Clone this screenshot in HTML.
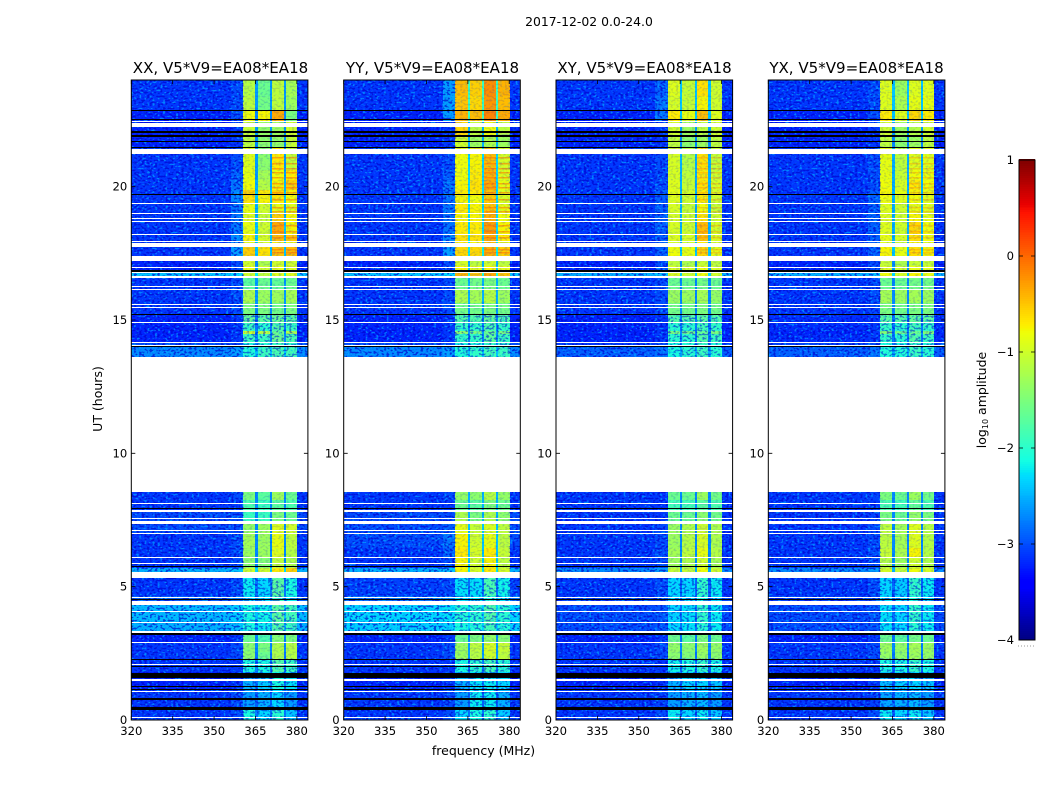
<!DOCTYPE html>
<html>
<head>
<meta charset="utf-8">
<title>2017-12-02 amplitude waterfall</title>
<style>
html,body{margin:0;padding:0;background:#fff;}
svg{display:block;}
text{font-family:"DejaVu Sans","Liberation Sans",sans-serif;fill:#000;}
</style>
</head>
<body>
<svg id="chart" xmlns="http://www.w3.org/2000/svg" width="1050" height="800" viewBox="0 0 1050 800">
  <defs>
    <filter id="speckle-light" x="0" y="0" width="100%" height="100%" color-interpolation-filters="sRGB">
      <feTurbulence type="fractalNoise" baseFrequency="0.38 0.5" numOctaves="1" seed="4"/>
      <feColorMatrix type="matrix" values="0 0 0 0 0  0 0 0 0 0.68  0 0 0 0 1  9 0 0 0 -5.1"/>
    </filter>
    <filter id="speckle-dark" x="0" y="0" width="100%" height="100%" color-interpolation-filters="sRGB">
      <feTurbulence type="fractalNoise" baseFrequency="0.38 0.5" numOctaves="1" seed="11"/>
      <feColorMatrix type="matrix" values="0 0 0 0 0  0 0 0 0 0  0 0 0 0 0.8  9 0 0 0 -4.6"/>
    </filter>
  </defs>
  <rect x="0" y="0" width="1050" height="800" fill="#fff"/>
  <text x="589" y="26" font-size="12.4" text-anchor="middle">2017-12-02 0.0-24.0</text>
  <text x="220.5" y="73" font-size="15.05" text-anchor="middle">XX, V5*V9=EA08*EA18</text>
  <text x="432.5" y="73" font-size="15.05" text-anchor="middle">YY, V5*V9=EA08*EA18</text>
  <text x="644.5" y="73" font-size="15.05" text-anchor="middle">XY, V5*V9=EA08*EA18</text>
  <text x="856.5" y="73" font-size="15.05" text-anchor="middle">YX, V5*V9=EA08*EA18</text>
  <text x="483.5" y="755" font-size="12.5" text-anchor="middle">frequency (MHz)</text>
  <text transform="translate(102,399) rotate(-90)" font-size="12.5" text-anchor="middle">UT (hours)</text>
  <text transform="translate(986,400) rotate(-90)" font-size="12.5" text-anchor="middle">log<tspan font-size="8" dy="2">10</tspan><tspan dy="-2"> amplitude</tspan></text>
  <g id="panels"></g>
  <g id="colorbar"></g>
</svg>
<script>
// ---- chart data ----
const xTicks = [320, 335, 350, 365, 380];
const yTicks = [0, 5, 10, 15, 20];
const colorTicks = [1, 0, -1, -2, -3, -4];
const colorTickLabels = ['1', '0', '\u22121', '\u22122', '\u22123', '\u22124'];
// frequency edges (MHz) for the channel groups
const freqEdges = [320, 356, 360.5, 365, 365.8, 370.3, 371, 375.2, 376, 380.2, 384];
// time edges (UT hours), top to bottom
const rowEdges = [24,23.4,22.84,22.46,21.94,21.45,20.62,20.25,19.87,19.65,19.39,19,18.67,18.22,17.96,17.74,17.4,17.02,16.76,16.65,16.12,15.64,15.22,14.89,14.59,14.47,14.13,13.99,13.61,8.55,8.25,7.8,7.35,6.97,6.45,6.11,5.7,5.32,4.65,4.31,3.67,3.3,2.92,2.55,2.29,1.8,1.12,0.45,0];
// log10 amplitude per row: [background, near-band, seg1, seg2, seg3, seg4, gap]
const ampXX = [
[-3.1,-3,-1.15,-1.6,-1.1,-1.25,-2.6],[-3.1,-3,-1.1,-1.55,-1.1,-1.3,-2.6],[-3.2,-3,-0.8,-0.75,-0.35,-1.5,-2.7],
[-3.2,-3.1,-1.05,-1.35,-1.3,-1,-2.6],[-3.2,-3.1,-1.1,-1.4,-1.35,-1.05,-2.7],[-3.1,-3,-0.9,-1.4,-0.7,-1.05,-2.6],
[-3.1,-2.9,-0.85,-1.25,-0.8,-0.7,-2.6],[-3.1,-2.8,-0.8,-1.15,-0.75,-0.55,-2.5],[-3.1,-2.7,-0.55,-0.7,-0.6,-0.75,-2.4],
[-3.1,-2.7,-0.65,-0.75,-0.7,-0.8,-2.4],[-3.1,-2.8,-0.85,-1,-0.85,-0.9,-2.5],[-3.1,-2.8,-0.9,-1.05,-0.55,-0.75,-2.5],
[-3.1,-2.8,-0.85,-1,-0.35,-0.75,-2.4],[-3.1,-2.7,-0.75,-0.95,-0.45,-0.5,-2.4],[-3.1,-2.7,-0.8,-0.95,-0.7,-0.8,-2.4],
[-3.1,-2.6,-0.55,-0.65,-0.5,-0.45,-2.4],[-3.2,-3,-1,-1.2,-1,-1,-2.7],[-3.2,-3,-0.85,-1,-0.85,-0.9,-2.6],
[-2.4,-2.3,-1,-1.1,-0.9,-0.9,-2.2],[-3.1,-3,-1.7,-1.6,-1.65,-1.6,-2.6],[-3.1,-3,-1.2,-1.3,-1.3,-1.25,-2.6],
[-3.1,-3,-1.5,-1.5,-1.55,-1.5,-2.7],[-3.2,-3.1,-1.65,-1.7,-1.6,-1.7,-2.8],[-3.2,-3.1,-1.9,-2,-1.75,-1.9,-2.8],
[-3.2,-3.1,-1,-1.1,-1.6,-1.2,-2.6],[-3.2,-3.1,-1.9,-1.9,-1.6,-1.8,-2.7],[-3,-3,-2.1,-2,-1.9,-2,-2.7],
[-2.7,-2.6,-2.05,-1.9,-1.8,-1.85,-2.4],null,
[-3.1,-3,-1.5,-1.7,-1.3,-1.6,-2.7],[-3.1,-3.1,-1.8,-1.9,-1.7,-1.8,-2.7],[-3,-3,-1.9,-1.9,-1.5,-1.6,-2.7],
[-3,-3,-1.35,-1.3,-0.9,-1,-2.7],[-3.1,-3,-1.25,-1.3,-0.85,-1.1,-2.7],[-3.1,-3,-1.3,-1.3,-0.9,-1.15,-2.7],
[-3.1,-3,-1.4,-1.45,-1.1,-1.2,-2.7],[-2.5,-2.4,-1,-1,-0.7,-0.55,-2.3],[-3.1,-3,-2.2,-2.3,-1.7,-2.1,-2.8],
[-2.9,-2.8,-2.3,-2.3,-1.9,-2.2,-2.7],[-2.45,-2.35,-2.1,-2.15,-1.7,-1.85,-2.4],[-2.5,-2.4,-2.1,-2.2,-1.75,-1.9,-2.5],
[-3.2,-3.1,-1.6,-1.8,-1.45,-1.5,-2.7],[-3.1,-3,-1.4,-1.5,-1.2,-1.15,-2.7],[-3.1,-3,-1.4,-1.6,-1.2,-1.15,-2.8],
[-3.1,-3.1,-2.1,-2.1,-1.75,-1.9,-2.8],[-3.2,-3.1,-2.5,-2.35,-2.1,-2.25,-2.8],[-3.1,-3,-2.6,-2.5,-2.3,-2.6,-2.9],[-3.1,-3,-2.1,-2.3,-2,-2.4,-2.8]
];
const ampYY = [
[-3.1,-2.6,-0.45,-0.55,-0.2,-0.4,-1.9],[-3.1,-2.6,-0.5,-0.6,-0.25,-0.45,-1.9],[-3.2,-2.6,-0.4,-0.45,-0.15,-0.35,-1.9],
[-3.2,-3.1,-0.6,-1.1,-0.8,-1.1,-2.5],[-3.2,-3.1,-1,-1.3,-1.2,-1.3,-2.5],[-3.1,-3,-0.8,-0.75,-0.45,-0.95,-2.3],
[-3.1,-2.9,-0.8,-0.7,-0.4,-0.9,-2.3],[-3.1,-2.8,-0.75,-0.65,-0.35,-0.85,-2.3],[-3.1,-2.8,-0.7,-0.7,-0.5,-0.9,-2.3],
[-3.1,-2.8,-0.75,-0.8,-0.55,-0.95,-2.3],[-3.1,-2.8,-0.7,-0.75,-0.5,-0.85,-2.3],[-3.1,-2.8,-0.75,-0.75,-0.4,-0.8,-2.3],
[-3.1,-2.8,-0.7,-0.7,-0.3,-0.75,-2.3],[-3.1,-2.7,-0.65,-0.65,-0.35,-0.7,-2.3],[-3.1,-2.7,-0.7,-0.75,-0.45,-0.8,-2.3],
[-3.1,-2.6,-0.6,-0.6,-0.4,-0.55,-2.2],[-3.2,-3,-0.95,-1.1,-1,-1.1,-2.5],[-3.2,-3,-0.75,-0.85,-0.75,-0.85,-2.4],
[-2.4,-2.3,-0.4,-0.5,-0.35,-0.5,-2.1],[-3.1,-3,-1.6,-1.55,-1.5,-1.6,-2.5],[-3.1,-3,-1.2,-1.25,-1.15,-1.3,-2.5],
[-3.1,-3,-1.55,-1.55,-1.5,-1.55,-2.6],[-3.2,-3.1,-1.75,-1.75,-1.65,-1.75,-2.7],[-3.2,-3.1,-1.95,-1.95,-1.8,-1.95,-2.7],
[-3.2,-3.1,-1.4,-1.5,-1.6,-1.5,-2.6],[-3.2,-3.1,-1.95,-1.95,-1.7,-1.9,-2.7],[-3,-3,-2.1,-2.05,-1.95,-2,-2.7],
[-2.7,-2.6,-2.05,-1.95,-1.85,-1.9,-2.4],null,
[-3.1,-3,-1.35,-1.4,-1.15,-1.35,-2.5],[-3.1,-3.1,-1.6,-1.7,-1.5,-1.6,-2.5],[-3,-3,-1.2,-1.5,-1.2,-1.4,-2.5],
[-3,-2.9,-0.85,-1.05,-0.95,-1.1,-2.4],[-3,-2.8,-0.75,-1,-0.85,-1.1,-2.4],[-3.1,-2.9,-0.7,-0.95,-0.7,-1.05,-2.4],
[-3.1,-3,-0.75,-1,-0.75,-1.1,-2.4],[-2.5,-2.4,-0.75,-0.95,-0.7,-0.95,-2.2],[-3.05,-3,-2.25,-2.25,-1.8,-2.15,-2.8],
[-2.8,-2.7,-2.25,-2.25,-2.05,-2.25,-2.6],[-2.3,-2.25,-2.05,-2,-1.75,-2,-2.3],[-2.35,-2.3,-2.1,-2.05,-1.85,-2.05,-2.3],
[-3.2,-3.1,-1.6,-1.5,-1.35,-1.45,-2.7],[-3.1,-3,-1.3,-1.1,-0.95,-1.05,-2.6],[-3.1,-3,-1.3,-1.15,-1,-1.1,-2.6],
[-3.1,-3.1,-2.1,-2,-1.85,-2,-2.8],[-3.2,-3.1,-2.5,-2.25,-2.2,-2.3,-2.8],[-3.1,-3,-2.6,-2.2,-2.2,-2.5,-2.9],[-3.1,-3,-2.3,-2.1,-2,-2.35,-2.8]
];
const ampXY = [
[-3.1,-2.9,-0.9,-1.05,-0.65,-1,-2.4],[-3.1,-2.8,-0.95,-1.05,-0.75,-1,-2.4],[-3.2,-2.8,-0.7,-0.85,-0.45,-0.9,-2.4],
[-3.2,-3.1,-1,-1.3,-1.1,-1,-2.6],[-3.2,-3.1,-1.1,-1.4,-1.3,-1.1,-2.7],[-3.1,-3,-0.95,-1.15,-0.65,-1.05,-2.5],
[-3.1,-3,-0.95,-1.1,-0.7,-1,-2.5],[-3.1,-3,-0.9,-1.05,-0.65,-0.95,-2.5],[-3.1,-2.9,-0.85,-0.95,-0.7,-0.95,-2.5],
[-3.1,-2.9,-0.9,-1,-0.7,-1,-2.5],[-3.1,-2.9,-0.95,-1.05,-0.8,-1.05,-2.5],[-3.1,-2.9,-0.95,-1,-0.65,-1,-2.5],
[-3.1,-2.9,-0.95,-1,-0.45,-0.95,-2.5],[-3.1,-2.9,-0.9,-0.95,-0.5,-0.9,-2.5],[-3.1,-2.9,-0.95,-1,-0.7,-0.95,-2.5],
[-3.1,-2.9,-0.8,-0.85,-0.6,-0.85,-2.4],[-3.2,-3,-1.1,-1.2,-1.05,-1.1,-2.7],[-3.2,-3,-0.95,-1,-0.85,-0.95,-2.6],
[-2.5,-2.4,-0.9,-1,-0.8,-1,-2.3],[-3.1,-3,-1.6,-1.6,-1.55,-1.6,-2.7],[-3.1,-3,-1.3,-1.3,-1.25,-1.35,-2.7],
[-3.1,-3,-1.55,-1.55,-1.5,-1.55,-2.7],[-3.2,-3.1,-1.75,-1.75,-1.7,-1.75,-2.8],[-3.2,-3.1,-2,-2,-1.85,-1.95,-2.8],
[-3.2,-3.1,-1.5,-1.55,-1.65,-1.5,-2.7],[-3.2,-3.1,-2,-2,-1.75,-1.9,-2.8],[-3.1,-3,-2.1,-2.05,-1.95,-2.05,-2.8],
[-2.9,-2.8,-2.1,-2,-1.9,-2,-2.5],null,
[-3.1,-3.1,-1.6,-1.6,-1.3,-1.55,-2.7],[-3.1,-3.1,-1.85,-1.85,-1.7,-1.8,-2.7],[-3.1,-3.1,-1.6,-1.6,-1.4,-1.55,-2.7],
[-3.1,-3,-1.3,-1.2,-1,-1.2,-2.7],[-3.1,-3,-1.3,-1.15,-0.95,-1.2,-2.7],[-3.1,-3,-1.25,-1.1,-0.85,-1.15,-2.7],
[-3.1,-3,-1.3,-1.2,-1,-1.25,-2.7],[-2.7,-2.6,-1.05,-1.05,-0.8,-1,-2.5],[-3.1,-3,-2.3,-2.3,-1.95,-2.2,-2.9],
[-3.05,-3,-2.3,-2.3,-2.1,-2.3,-2.9],[-3,-2.95,-2.3,-2.25,-1.95,-2.2,-2.8],[-3,-2.95,-2.3,-2.25,-2,-2.2,-2.8],
[-3.2,-3.1,-1.6,-1.7,-1.5,-1.6,-2.8],[-3.1,-3,-1.35,-1.4,-1.3,-1.35,-2.7],[-3.1,-3,-1.4,-1.45,-1.35,-1.4,-2.8],
[-3.1,-3.1,-2.15,-2.1,-1.95,-2.1,-2.9],[-3.2,-3.1,-2.5,-2.35,-2.3,-2.4,-2.9],[-3.1,-3.05,-2.6,-2.5,-2.45,-2.6,-2.9],[-3.1,-3,-2.2,-2.3,-2.2,-2.4,-2.9]
];
const ampYX = [
[-3.1,-3,-0.9,-1.3,-0.9,-0.9,-2.4],[-3.1,-3,-0.9,-1.2,-0.85,-0.85,-2.4],[-3.2,-3,-0.7,-0.9,-0.6,-0.7,-2.4],
[-3.2,-3.1,-1,-1.3,-1.15,-1,-2.6],[-3.2,-3.1,-1.1,-1.4,-1.3,-1.1,-2.7],[-3.1,-3,-0.85,-1.1,-0.9,-0.9,-2.5],
[-3.1,-3,-0.85,-1.05,-0.8,-0.85,-2.5],[-3.1,-3,-0.8,-0.95,-0.7,-0.8,-2.5],[-3.1,-2.9,-0.75,-0.85,-0.75,-0.85,-2.5],
[-3.1,-2.9,-0.8,-0.9,-0.8,-0.9,-2.5],[-3.1,-2.9,-0.9,-1,-0.85,-0.9,-2.5],[-3.1,-2.9,-0.9,-1,-0.75,-0.85,-2.5],
[-3.1,-2.9,-0.9,-1,-0.6,-0.8,-2.5],[-3.1,-2.9,-0.85,-0.95,-0.65,-0.8,-2.5],[-3.1,-2.9,-0.9,-1,-0.75,-0.85,-2.5],
[-3.1,-2.9,-0.75,-0.85,-0.65,-0.75,-2.4],[-3.2,-3,-1.05,-1.2,-1.05,-1.05,-2.7],[-3.2,-3,-0.9,-1,-0.85,-0.9,-2.6],
[-2.5,-2.4,-0.8,-0.95,-0.75,-0.85,-2.3],[-3.1,-3,-1.6,-1.6,-1.55,-1.55,-2.7],[-3.1,-3,-1.25,-1.3,-1.25,-1.3,-2.7],
[-3.1,-3,-1.5,-1.55,-1.5,-1.5,-2.7],[-3.15,-3.1,-1.7,-1.75,-1.65,-1.7,-2.8],[-3.15,-3.1,-1.95,-2,-1.85,-1.95,-2.8],
[-3.2,-3.1,-1.45,-1.55,-1.6,-1.45,-2.7],[-3.15,-3.1,-1.95,-2,-1.75,-1.9,-2.8],[-3.05,-3,-2.1,-2.1,-1.95,-2.05,-2.8],
[-2.9,-2.8,-2.05,-2.05,-1.9,-2,-2.5],null,
[-3.1,-3.05,-1.5,-1.6,-1.3,-1.55,-2.7],[-3.1,-3.1,-1.8,-1.85,-1.65,-1.8,-2.7],[-3.1,-3.05,-1.5,-1.6,-1.35,-1.5,-2.7],
[-3.1,-3,-1.1,-1.25,-0.9,-1.15,-2.7],[-3.1,-3,-1.1,-1.25,-0.9,-1.15,-2.7],[-3.1,-3,-1.05,-1.2,-0.75,-1.15,-2.7],
[-3.1,-3,-1.15,-1.3,-1,-1.2,-2.7],[-2.7,-2.6,-0.95,-1.05,-0.8,-0.95,-2.5],[-3.1,-3,-2.3,-2.35,-1.95,-2.2,-2.9],
[-3.05,-3,-2.3,-2.3,-2.1,-2.3,-2.9],[-3,-2.95,-2.25,-2.3,-1.95,-2.2,-2.8],[-3,-2.95,-2.25,-2.3,-2,-2.2,-2.8],
[-3.2,-3.1,-1.6,-1.7,-1.55,-1.6,-2.8],[-3.1,-3,-1.3,-1.35,-1.25,-1.3,-2.7],[-3.1,-3,-1.35,-1.4,-1.3,-1.35,-2.8],
[-3.1,-3.1,-2.1,-2.1,-1.95,-2.1,-2.9],[-3.2,-3.1,-2.45,-2.35,-2.3,-2.4,-2.9],[-3.1,-3.05,-2.55,-2.5,-2.45,-2.6,-2.9],[-3.1,-3,-2.2,-2.3,-2.2,-2.4,-2.9]
];
// flagged (no data) time ranges, UT hours [from, to]
const blankHours = [[22.48,22.43],[22.38,22.24],[21.43,21.23],[19.38,19.35],[19,18.96],[18.82,18.78],[18.73,18.7],[18.22,18.19],[17.96,17.92],[17.87,17.83],[17.81,17.74],[17.41,17.22],[17,16.97],[16.8,16.76],[16.65,16.56],[16.26,16.22],[16.18,16.14],[15.59,15.55],[15.49,15.46],[14.91,14.88],[14.16,14.12],[14.07,14.04],[13.61,8.55],[8.14,8.1],[7.87,7.8],[7.57,7.52],[7.47,7.35],[7.12,7.09],[7.03,6.99],[6.11,6.07],[5.89,5.85],[5.55,5.32],[4.63,4.6],[4.46,4.31],[4.1,4.07],[3.67,3.64],[3.34,3.28],[2.92,2.89],[2.1,2.06],[1.54,1.48],[1.08,1.04],[0.11,0.07]];
// zero-amplitude time ranges, UT hours [from, to]
const darkHours = [[22.87,22.84],[22.53,22.5],[22.07,22.03],[21.92,21.88],[21.7,21.67],[21.49,21.45],[19.71,19.67],[19.4,19.37],[16.89,16.86],[16.83,16.8],[15.23,15.19],[14.01,13.97],[7.96,7.92],[5.76,5.72],[4.54,4.5],[3.26,3.19],[2.29,2.25],[2.02,1.99],[1.78,1.59],[1.27,1.24],[1.16,1.12],[0.82,0.75],[0.47,0.39]];
// bright narrow spectral streaks in the band, UT hours
const streakHours = [21.1,20.9,20.7,20.55,20.35,20.15,20,19.8,19.55,19.25,19.1,18.55,18.35,18.1,17.65,17.55];
// time ranges with noisy low-level band emission, UT hours [from, to]
const noisyHours = [[15.22,13.61],[5.32,3.3],[2.29,0]];
const polarisations = ['xx', 'yy', 'xy', 'yx'];
const polAmps = [ampXX, ampYY, ampXY, ampYX];

// ---- layout ----
const panelLeft = [131.3, 343.7, 556, 768.3];
const panelWidth = 176.6;
const plotTop = 80, plotBottom = 720;
const freqMin = 320, freqMax = 384, hourMin = 0, hourMax = 24;
const cbarLeft = 1019, cbarWidth = 16, cbarTop = 160, cbarBottom = 640;
const ampMin = -4, ampMax = 1;

const NS = 'http://www.w3.org/2000/svg';
function make(tag, attrs, parent) {
  const el = document.createElementNS(NS, tag);
  for (const k in attrs) el.setAttribute(k, attrs[k]);
  parent.appendChild(el);
  return el;
}
function xScale(p, f) { return panelLeft[p] + (f - freqMin) / (freqMax - freqMin) * panelWidth; }
function yScale(h) { return plotBottom - (h - hourMin) / (hourMax - hourMin) * (plotBottom - plotTop); }
function cbarScale(v) { return cbarBottom - (v - ampMin) / (ampMax - ampMin) * (cbarBottom - cbarTop); }
function lerpStops(stops, t) {
  for (let i = 1; i < stops.length; i++) {
    if (t <= stops[i][0]) {
      const a = stops[i - 1], b = stops[i];
      return a[1] + (b[1] - a[1]) * (t - a[0]) / (b[0] - a[0]);
    }
  }
  return stops[stops.length - 1][1];
}
const jetR = [[0,0],[0.35,0],[0.66,1],[0.89,1],[1,0.5]];
const jetG = [[0,0],[0.125,0],[0.375,1],[0.64,1],[0.91,0],[1,0]];
const jetB = [[0,0.5],[0.11,1],[0.34,1],[0.65,0],[1,0]];
function jet(v) {
  const t = Math.max(0, Math.min(1, (v - ampMin) / (ampMax - ampMin)));
  return 'rgb(' + Math.round(255 * lerpStops(jetR, t)) + ',' + Math.round(255 * lerpStops(jetG, t)) + ',' + Math.round(255 * lerpStops(jetB, t)) + ')';
}
// value column used by each frequency group
const groupColumn = [0, 1, 2, 6, 3, 6, 4, 6, 5, 0];

const panelsG = document.getElementById('panels');
polarisations.forEach(function (pol, p) {
  const g = make('g', {}, panelsG);
  
  
  const amps = polAmps[p];
  amps.forEach(function (row, r) {
    if (!row) return;
    for (let c = 0; c < freqEdges.length - 1; c++) {
      const x0 = Math.round(xScale(p, freqEdges[c])), x1 = Math.round(xScale(p, freqEdges[c + 1]));
      const y0 = Math.round(yScale(rowEdges[r])), y1 = Math.round(yScale(rowEdges[r + 1]));
      const cell = make('rect', {x: x0, y: y0, width: x1 - x0, height: y1 - y0, fill: jet(row[groupColumn[c]]), 'shape-rendering': 'crispEdges'}, g);
      
      
    }
  });
  const leftX = xScale(p, freqMin), bandX = xScale(p, freqEdges[2]), bandEnd = xScale(p, freqEdges[9]), rightX = xScale(p, freqMax);
  // spectral streaks across band segments 3 and 4
  streakHours.forEach(function (h) {
    const strength = (p < 2) ? 0.55 : 0.3;
    [[freqEdges[6], freqEdges[7]], [freqEdges[8], freqEdges[9]]].forEach(function (seg) {
      const s = make('rect', {x: xScale(p, seg[0]), y: Math.round(yScale(h)), width: xScale(p, seg[1]) - xScale(p, seg[0]), height: 1.5, fill: 'rgb(255,110,0)', opacity: strength}, g);
      
      
    });
  });
  // measurement-noise texture
  [[leftX, bandX, 0.65], [bandX, bandEnd, 0.12], [bandEnd, rightX, 0.65]].forEach(function (z) {
    ['speckle-light', 'speckle-dark'].forEach(function (f) {
      const n = make('rect', {x: z[0], y: plotTop, width: z[1] - z[0], height: plotBottom - plotTop, filter: 'url(#' + f + ')', opacity: z[2]}, g);
      
      
    });
  });
  noisyHours.forEach(function (d) {
    ['speckle-light', 'speckle-dark'].forEach(function (f) {
      const n = make('rect', {x: bandX, y: yScale(d[0]), width: bandEnd - bandX, height: yScale(d[1]) - yScale(d[0]), filter: 'url(#' + f + ')', opacity: 0.42}, g);
      
      
    });
  });
  darkHours.forEach(function (d) {
    const y0 = Math.round(yScale(d[0])), y1 = Math.round(yScale(d[1]));
    const line = make('rect', {x: leftX, y: y0, width: panelWidth, height: Math.max(1, y1 - y0), fill: '#000', 'shape-rendering': 'crispEdges'}, g);
    
    
  });
  blankHours.forEach(function (d) {
    const y0 = Math.round(yScale(d[0])), y1 = Math.round(yScale(d[1]));
    const line = make('rect', {x: leftX, y: y0, width: panelWidth, height: Math.max(1, y1 - y0), fill: '#fff', 'shape-rendering': 'crispEdges'}, g);
    
    
  });
  const frame = make('rect', {x: leftX, y: plotTop, width: panelWidth, height: plotBottom - plotTop, fill: 'none', stroke: '#000', 'stroke-width': 1}, g);
  
  
  xTicks.forEach(function (t) {
    const x = xScale(p, t);
    const tick = make('path', {d: 'M' + x + ' ' + plotBottom + 'v-4M' + x + ' ' + plotTop + 'v4', stroke: '#000', fill: 'none', 'stroke-width': 0.8}, g);
    
    
    const label = make('text', {x: x, y: 735, 'font-size': 11.6, 'text-anchor': 'middle'}, g);
    
    
    label.textContent = t;
  });
  yTicks.forEach(function (t) {
    const y = yScale(t);
    const tick = make('path', {d: 'M' + leftX + ' ' + y + 'h4M' + (leftX + panelWidth) + ' ' + y + 'h-4', stroke: '#000', fill: 'none', 'stroke-width': 0.8}, g);
    
    
    const label = make('text', {x: leftX - 4, y: y + 4, 'font-size': 11.6, 'text-anchor': 'end'}, g);
    
    
    label.textContent = t;
  });
});

// colorbar
const cb = document.getElementById('colorbar');
for (let v = ampMin; v < ampMax; v += 0.02) {
  const y0 = Math.floor(cbarScale(v + 0.02)), y1 = Math.ceil(cbarScale(v));
  const strip = make('rect', {x: cbarLeft, y: y0, width: cbarWidth, height: y1 - y0, fill: jet(v + 0.01), 'shape-rendering': 'crispEdges'}, cb);
  
  
}
const cbFrame = make('rect', {x: cbarLeft, y: cbarTop, width: cbarWidth, height: cbarBottom - cbarTop, fill: 'none', stroke: '#000', 'stroke-width': 1}, cb);


colorTicks.forEach(function (t, i) {
  const y = cbarScale(t);
  const tick = make('path', {d: 'M' + cbarLeft + ' ' + y + 'h4M' + (cbarLeft + cbarWidth) + ' ' + y + 'h-4', stroke: '#000', fill: 'none', 'stroke-width': 0.8}, cb);
  
  
  const label = make('text', {x: cbarLeft - 5, y: y + 4, 'font-size': 11.6, 'text-anchor': 'end'}, cb);
  
  
  label.textContent = colorTickLabels[i];
});
const dots = make('line', {x1: 1018, x2: 1034, y1: 646, y2: 646, stroke: '#999', 'stroke-width': 1, 'stroke-dasharray': '1 2'}, cb);


</script>
</body>
</html>
